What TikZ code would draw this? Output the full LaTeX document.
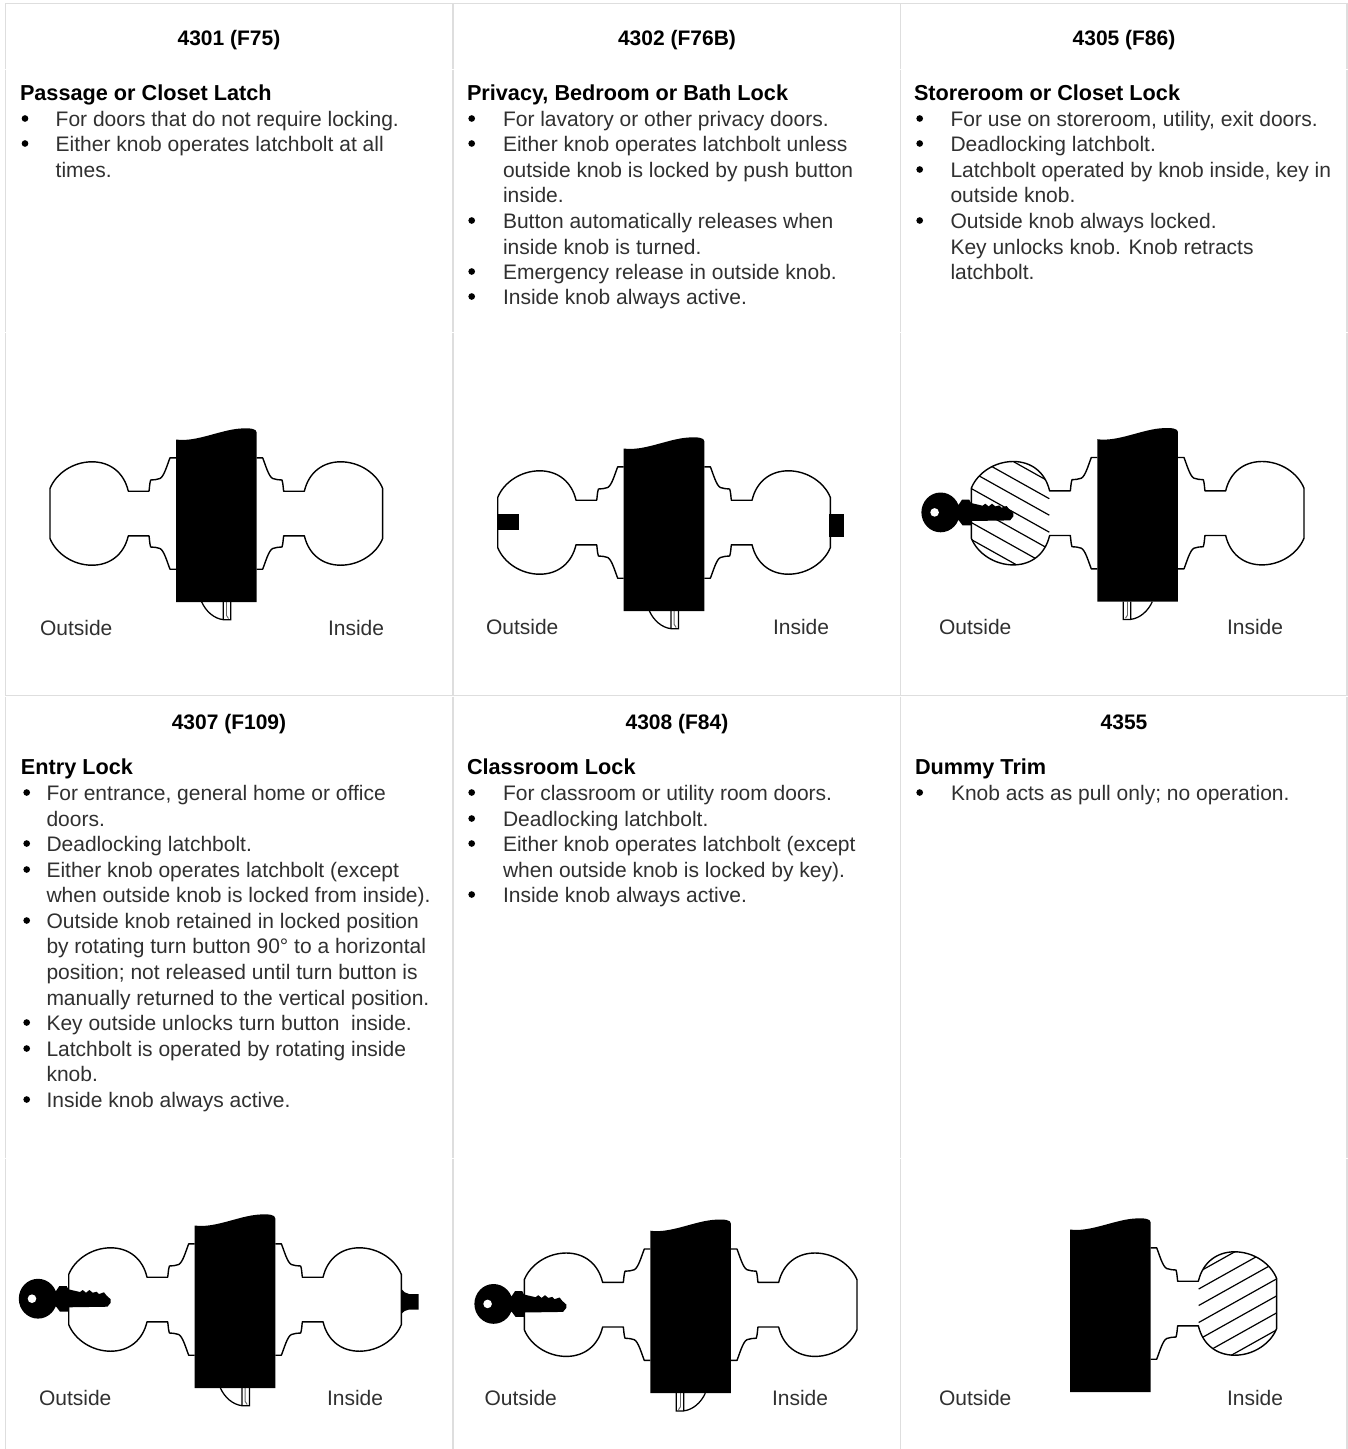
\documentclass[tikz,border=0pt]{standalone}
\usepackage{fontspec}
\setmainfont{Liberation Sans}
\newcounter{tn}
\definecolor{rulegray}{HTML}{DEDEDE}
\definecolor{inkgray}{HTML}{303030}
\tikzset{
  txt/.style={anchor=base west,inner sep=0pt,outer sep=0pt,text=inkgray,font=\fontsize{15.75}{19}\selectfont},
  bld/.style={anchor=base west,inner sep=0pt,outer sep=0pt,text=black,font=\fontsize{16.25}{19}\selectfont\bfseries},
  ttl/.style={anchor=base,inner sep=0pt,outer sep=0pt,text=black,font=\fontsize{15.75}{19}\selectfont\bfseries},
  bulletdot/.style={circle,fill=black,draw=none,inner sep=0pt,minimum size=5pt},
  gridline/.style={draw=rulegray,line width=0.95pt},
  knobline/.style={draw=black,line width=1.05pt,line join=round},
  hatchline/.style={draw=black,line width=0.9pt},
  latchline/.style={draw=black,line width=0.95pt,line join=miter},
  solid black/.style={fill=black,draw=none}
}
% text helpers
\newcommand{\tline}[3]{\stepcounter{tn}\node[txt] (t\arabic{tn}) at (#1,#2) {#3};}
\newcommand{\thead}[3]{\stepcounter{tn}\node[bld] (t\arabic{tn}) at (#1,#2) {#3};}
\newcommand{\ttitle}[3]{\stepcounter{tn}\node[ttl] (t\arabic{tn}) at (#1,#2) {#3};}
\newcommand{\tbul}[4]{\stepcounter{tn}\node[bulletdot] (t\arabic{tn}) at ({#1+3.7},{#3-7.5}) {};\stepcounter{tn}\node[txt] (t\arabic{tn}) at (#2,#3) {#4};}
% lock geometry, origin = door left edge on knob axis
\def\knobpath{(0,-55.7) -- (-6,-55.7) .. controls (-9,-48) and (-12,-37) .. (-16,-35) .. controls (-19,-33.5) and (-22,-34) .. (-25.3,-33.5) .. controls (-26.5,-30) and (-26.5,-25) .. (-27,-22.3) -- (-47.7,-22.3) .. controls (-52,-41) and (-66,-51.7) .. (-84,-51.7) .. controls (-103,-51.7) and (-120,-40) .. (-126,-25) -- (-126,25) .. controls (-120,40) and (-103,51.7) .. (-84,51.7) .. controls (-66,51.7) and (-52,41) .. (-47.7,22.3) -- (-27,22.3) .. controls (-26.5,25) and (-26.5,30) .. (-25.3,33.5) .. controls (-22,34) and (-19,33.5) .. (-16,35) .. controls (-12,37) and (-9,48) .. (-6,55.7) -- (0,55.7)}
\def\knobclip{(-47.7,-22.3) .. controls (-52,-41) and (-66,-51.7) .. (-84,-51.7) .. controls (-103,-51.7) and (-120,-40) .. (-126,-25) -- (-126,25) .. controls (-120,40) and (-103,51.7) .. (-84,51.7) .. controls (-66,51.7) and (-52,41) .. (-47.7,22.3) -- cycle}
\newcommand{\doorpart}{\fill[solid black] (0,-74) .. controls (20,-71) and (45,-84) .. (65,-85) .. controls (74,-85.5) and (80.67,-85) .. (80.67,-81) -- (80.67,88.5) -- (0,88.5) -- cycle;}
\newcommand{\latchpart}{\draw[latchline] (25.7,88.5) .. controls (30,98) and (38,105) .. (47.3,106.2) -- (54.7,106.2) -- (54.7,88.5) (47.3,88.5) -- (47.3,106.2);
  \draw[draw=black!60,line width=0.7pt] (50.5,88.5) -- (50.5,102) -- (52.5,105);}
\newcommand{\latchmirror}{\begin{scope}[shift={(80.67,0)},xscale=-1]\latchpart\end{scope}}
\newcommand{\outknob}{\draw[knobline] \knobpath;}
\newcommand{\inknob}{\begin{scope}[shift={(80.67,0)},xscale=-1]\draw[knobline] \knobpath;\end{scope}}
\newcommand{\hatchknob}{\begin{scope}\clip \knobclip;
  \foreach \d in {-31.5,-14.5,2,19,36,53,70,87} {\draw[hatchline] (-130,{\d-45.9}) -- (-48,\d);}
  \end{scope}}
\newcommand{\keypart}{\fill[solid black] (-156.7,-0.8) ellipse [x radius=19.2,y radius=19.9];
  \fill[solid black] (-126.3,-10.2) -- (-114.7,-7.5) -- (-112,-9.5) -- (-108.7,-6.8) -- (-105.3,-9.5) -- (-102,-6.8) -- (-98,-7.8) -- (-95.7,-5.5) -- (-90.7,-7.2) -- (-88,-3.8) -- (-84,-0.2) -- (-84,3.2) -- (-87.3,7.2) -- (-126.3,7.8) -- (-126.3,12.2) -- (-134.7,12.2) -- (-138,7.8) -- (-141,5) -- (-141,-6) -- (-138,-9.5) -- (-135.3,-13.5) -- (-128,-13.5) -- cycle;
  \fill[white] (-162.7,-0.8) circle [radius=4.3];}
\begin{document}
\begin{tikzpicture}[x=0.75pt,y=-0.75pt]
\useasboundingbox (0,0) rectangle (1348,1449);
\fill[white] (0,0) rectangle (1348,1449);
% grid
\draw[gridline] (5,3.5) -- (1347.5,3.5);
\draw[gridline] (5,695.5) -- (1347.5,695.5);
\foreach \x in {5.5,453,900.5,1347} {
  \draw[gridline] (\x,3) -- (\x,68.5);
  \draw[gridline] (\x,69.5) -- (\x,331.5);
  \draw[gridline] (\x,332.5) -- (\x,694.5);
  \draw[gridline] (\x,696.5) -- (\x,1157.5);
  \draw[gridline] (\x,1158.5) -- (\x,1449);
}
% titles
\ttitle{229}{45}{4301 (F75)}
\ttitle{677}{45}{4302 (F76B)}
\ttitle{1124}{45}{4305 (F86)}
\ttitle{229}{729}{4307 (F109)}
\ttitle{677}{729}{4308 (F84)}
\ttitle{1124}{729}{4355}
% column 1 row 1
\thead{20}{100}{Passage or Closet Latch}
\tbul{21.3}{55.7}{126}{For doors that do not require locking.}
\tbul{21.3}{55.7}{151}{Either knob operates latchbolt at all}
\tline{55.7}{177}{times.}
% column 2 row 1
\thead{467}{100}{Privacy, Bedroom or Bath Lock}
\tbul{468}{503}{126}{For lavatory or other privacy doors.}
\tbul{468}{503}{151}{Either knob operates latchbolt unless}
\tline{503}{177}{outside knob is locked by push button}
\tline{503}{202}{inside.}
\tbul{468}{503}{228}{Button automatically releases when}
\tline{503}{254}{inside knob is turned.}
\tbul{468}{503}{279}{Emergency release in outside knob.}
\tbul{468}{503}{304}{Inside knob always active.}
% column 3 row 1
\thead{914}{100}{Storeroom or Closet Lock}
\tbul{916}{950.5}{126}{For use on storeroom, utility, exit doors.}
\tbul{916}{950.5}{151}{Deadlocking latchbolt.}
\tbul{916}{950.5}{177}{Latchbolt operated by knob inside, key in}
\tline{950.5}{202}{outside knob.}
\tbul{916}{950.5}{228}{Outside knob always locked.}
\tline{950.5}{254}{Key unlocks knob. Knob retracts}
\tline{950.5}{279}{latchbolt.}
% column 1 row 2
\thead{21}{774}{Entry Lock}
\tbul{23}{46.5}{800}{For entrance, general home or office}
\tline{46.5}{826}{doors.}
\tbul{23}{46.5}{851}{Deadlocking latchbolt.}
\tbul{23}{46.5}{877}{Either knob operates latchbolt (except}
\tline{46.5}{902}{when outside knob is locked from inside).}
\tbul{23}{46.5}{928}{Outside knob retained in locked position}
\tline{46.5}{953}{by rotating turn button 90° to a horizontal}
\tline{46.5}{979}{position; not released until turn button is}
\tline{46.5}{1005}{manually returned to the vertical position.}
\tbul{23}{46.5}{1030}{Key outside unlocks turn button\ \ inside.}
\tbul{23}{46.5}{1056}{Latchbolt is operated by rotating inside}
\tline{46.5}{1081}{knob.}
\tbul{23}{46.5}{1107}{Inside knob always active.}
% column 2 row 2
\thead{467}{774}{Classroom Lock}
\tbul{468}{503}{800}{For classroom or utility room doors.}
\tbul{468}{503}{826}{Deadlocking latchbolt.}
\tbul{468}{503}{851}{Either knob operates latchbolt (except}
\tline{503}{877}{when outside knob is locked by key).}
\tbul{468}{503}{902}{Inside knob always active.}
% column 3 row 2
\thead{915}{774}{Dummy Trim}
\tbul{916}{951}{800}{Knob acts as pull only; no operation.}
% labels
\tline{40}{635}{Outside}\tline{328}{635}{Inside}
\tline{486}{634}{Outside}\tline{773}{634}{Inside}
\tline{939}{634}{Outside}\tline{1227}{634}{Inside}
\tline{39}{1405.5}{Outside}\tline{327}{1405.5}{Inside}
\tline{484.5}{1405.5}{Outside}\tline{772}{1405.5}{Inside}
\tline{939}{1405}{Outside}\tline{1227}{1405}{Inside}
% 4301
\begin{scope}[shift={(176,513.5)}]
  \outknob \inknob \latchpart \doorpart
\end{scope}
% 4302
\begin{scope}[shift={(623.7,522.5)}]
  \outknob \inknob \latchpart \doorpart
  \fill[solid black] (-126.3,-8.5) rectangle (-104.7,7);
  \fill[solid black] (205.7,-9) rectangle (220.7,14);
\end{scope}
% 4305
\begin{scope}[shift={(1097.3,513.2)}]
  \hatchknob \outknob \inknob \latchmirror \doorpart \keypart
\end{scope}
% 4307
\begin{scope}[shift={(194.7,1299.5)}]
  \outknob \inknob \latchpart \doorpart \keypart
  \fill[solid black] (206.3,-11) .. controls (209,-8) and (211,-5.5) .. (214.5,-5.5) -- (224,-5.5) -- (224,10) -- (214.5,10) .. controls (211,10) and (209,12) .. (206.3,15) -- cycle;
\end{scope}
% 4308
\begin{scope}[shift={(650.3,1304.7)}]
  \outknob \inknob \latchmirror \doorpart \keypart
\end{scope}
% 4355
\begin{scope}[shift={(1070,1303.5)}]
  \begin{scope}[shift={(80.67,0)},xscale=-1]\hatchknob\end{scope}
  \inknob \doorpart
\end{scope}
\end{tikzpicture}
\end{document}
